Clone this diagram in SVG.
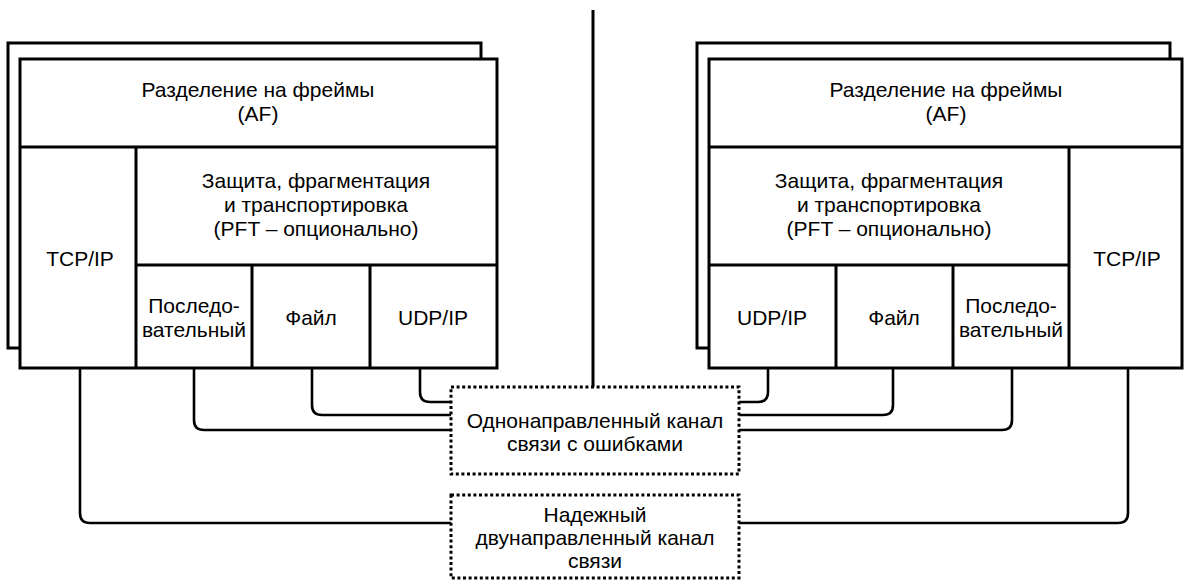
<svg xmlns="http://www.w3.org/2000/svg" width="1184" height="580" viewBox="0 0 1184 580">
<style>
.box{fill:#fff;stroke:#000;stroke-width:3}
.ln{fill:none;stroke:#000;stroke-width:3}
.wire{fill:none;stroke:#000;stroke-width:2.6}
.dot{fill:#fff;stroke:#000;stroke-width:3;stroke-dasharray:3 2.6}
text{font-family:"Liberation Sans",Arial,sans-serif;font-size:21px;fill:#000;text-anchor:middle}
</style>
<rect width="1184" height="580" fill="#fff"/>
<line x1="593" y1="10" x2="593" y2="387" class="ln"/>
<g id="left-stack">
<rect class="box" x="8" y="43" width="473" height="305"/>
<rect class="box" x="20" y="59" width="477" height="309"/>
<line class="ln" x1="20" y1="147" x2="497" y2="147"/>
<line class="ln" x1="136" y1="147" x2="136" y2="368"/>
<line class="ln" x1="136" y1="265" x2="497" y2="265"/>
<line class="ln" x1="252" y1="265" x2="252" y2="368"/>
<line class="ln" x1="370" y1="265" x2="370" y2="368"/>
<g id="l-af"><text x="258" y="97">Разделение на фреймы</text><text x="258" y="121">(AF)</text></g>
<g id="l-pft"><text x="316" y="188">Защита, фрагментация</text><text x="316" y="212">и транспортировка</text><text x="316" y="236">(PFT – опционально)</text></g>
<g id="l-tcp"><text x="80" y="266">TCP/IP</text></g>
<g id="l-ser"><text x="194" y="313">Последо-</text><text x="194" y="337">вательный</text></g>
<g id="l-file"><text x="311" y="325">Файл</text></g>
<g id="l-udp"><text x="433" y="325">UDP/IP</text></g>
</g>
<g id="right-stack">
<rect class="box" x="697" y="43" width="473" height="305"/>
<rect class="box" x="709" y="59" width="473" height="309"/>
<line class="ln" x1="709" y1="147" x2="1182" y2="147"/>
<line class="ln" x1="1069" y1="147" x2="1069" y2="368"/>
<line class="ln" x1="709" y1="265" x2="1069" y2="265"/>
<line class="ln" x1="836" y1="265" x2="836" y2="368"/>
<line class="ln" x1="953" y1="265" x2="953" y2="368"/>
<g id="r-af"><text x="946" y="97">Разделение на фреймы</text><text x="946" y="121">(AF)</text></g>
<g id="r-pft"><text x="889" y="188">Защита, фрагментация</text><text x="889" y="212">и транспортировка</text><text x="889" y="236">(PFT – опционально)</text></g>
<g id="r-tcp"><text x="1127" y="266">TCP/IP</text></g>
<g id="r-udp"><text x="772" y="325">UDP/IP</text></g>
<g id="r-file"><text x="894" y="325">Файл</text></g>
<g id="r-ser"><text x="1011" y="313">Последо-</text><text x="1011" y="337">вательный</text></g>
</g>
<g id="connectors">
<path class="wire" d="M80 368 V513 Q80 523 90 523 H451"/>
<path class="wire" d="M194 368 V420 Q194 430 204 430 H451"/>
<path class="wire" d="M312 368 V405 Q312 415 322 415 H451"/>
<path class="wire" d="M420 368 V392 Q420 402 430 402 H451"/>
<path class="wire" d="M768 368 V392 Q768 402 758 402 H739"/>
<path class="wire" d="M893 368 V405 Q893 415 883 415 H739"/>
<path class="wire" d="M1012 368 V420 Q1012 430 1002 430 H739"/>
<path class="wire" d="M1128 368 V513 Q1128 523 1118 523 H739"/>
</g>
<g id="unidirectional-channel">
<rect class="dot" x="451" y="387" width="288" height="87"/>
<text x="595" y="428">Однонаправленный канал</text>
<text x="595" y="451">связи с ошибками</text>
</g>
<g id="bidirectional-channel">
<rect class="dot" x="451" y="495" width="288" height="83"/>
<text x="595" y="522">Надежный</text>
<text x="595" y="545">двунаправленный канал</text>
<text x="595" y="568">связи</text>
</g>
</svg>
